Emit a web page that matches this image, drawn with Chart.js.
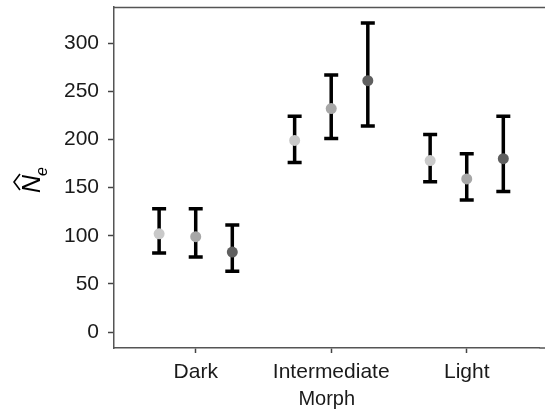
<!DOCTYPE html>
<html>
<head>
<meta charset="utf-8">
<script src="https://cdn.jsdelivr.net/npm/chart.js@4"></script>
<style>
  html, body { margin: 0; padding: 0; background: #fff; }
  #wrap { width: 545px; height: 411px; }
</style>
</head>
<body>
<div id="wrap"><canvas id="neChart"></canvas></div>
<script>
"use strict";
// categories on the x axis
const categories = ['Dark', 'Intermediate', 'Light'];
const yTicks = [0, 50, 100, 150, 200, 250, 300];

// three estimates per morph (light grey, mid grey, dark grey points)
const estA = [102, 199, 178];
const lowA = [82, 176, 156];
const highA = [128, 224, 205];

const estB = [99, 232, 159];
const lowB = [78, 201, 137];
const highB = [128, 267, 185];

const estC = [83, 261, 180];
const lowC = [63, 214, 146];
const highC = [111, 321, 224];

const groupOffsets = [-0.27, 0, 0.27];
const pointColors = ['#c9c9c9', '#a7a7a7', '#606060'];
const fontFamily = '"Liberation Sans", Arial, sans-serif';

const series = [
    { est: estA, low: lowA, high: highA },
    { est: estB, low: lowB, high: highB },
    { est: estC, low: lowC, high: highC }
];

//error bars drawn under the points, through the chart scales
const errorBars = {
    id: 'errorBars',
    beforeDatasetsDraw(chart) {
        const { ctx, scales: { x, y } } = chart;
        ctx.save();
        ctx.strokeStyle = '#000';
        ctx.lineWidth = 3.5;
        series.forEach((s, si) => {
            categories.forEach((c, ci) => {
                const px = x.getPixelForValue(ci + 1 + groupOffsets[si]);
                const top = y.getPixelForValue(s.high[ci]);
                const bot = y.getPixelForValue(s.low[ci]);
                ctx.beginPath();
                ctx.moveTo(px, top);
                ctx.lineTo(px, bot);
                ctx.moveTo(px - 7, top);
                ctx.lineTo(px + 7, top);
                ctx.moveTo(px - 7, bot);
                ctx.lineTo(px + 7, bot);
                ctx.stroke();
            });
        });
        ctx.restore();
    }
};

//top border of the panel and the N-hat sub e axis title
const frameAndTitle = {
    id: 'frameAndTitle',
    afterDraw(chart) {
        const { ctx, chartArea } = chart;
        ctx.save();
        ctx.strokeStyle = '#555';
        ctx.lineWidth = 1.5;
        ctx.beginPath();
        ctx.moveTo(chartArea.left, chartArea.top + 0.5);
        ctx.lineTo(chart.width, chartArea.top + 0.5);
        ctx.moveTo(chartArea.right, chartArea.bottom);
        ctx.lineTo(chart.width, chartArea.bottom);
        ctx.stroke();

        ctx.translate(40, 193);
        ctx.rotate(-Math.PI / 2);
        ctx.fillStyle = '#000';
        ctx.textBaseline = 'alphabetic';
        ctx.textAlign = 'left';
        ctx.font = 'italic 25px ' + fontFamily;
        ctx.fillText('N', 0, 0);
        const nW = ctx.measureText('N').width;
        ctx.font = 'italic 16px ' + fontFamily;
        ctx.fillText('e', nW - 1, 7);
        ctx.strokeStyle = '#000';
        ctx.lineWidth = 1.6;
        ctx.beginPath();
        ctx.moveTo(3, -20);
        ctx.lineTo(nW / 2 + 2, -26);
        ctx.lineTo(nW + 1, -20);
        ctx.stroke();
        ctx.restore();
    }
};

const datasets = series.map((s, si) => ({
    label: 'Estimate ' + (si + 1),
    data: s.est.map((v, ci) => ({ x: ci + 1 + groupOffsets[si], y: v })),
    backgroundColor: pointColors[si],
    borderColor: pointColors[si],
    pointRadius: 5.5,
    pointHoverRadius: 5.5,
    borderWidth: 0
}));

const ctx = document.getElementById('neChart').getContext('2d');
const neChart = new Chart(ctx, {
    type: 'scatter',
    data: { datasets: datasets },
    options: {
        responsive: true,
        maintainAspectRatio: false,
        animation: false,
        layout: { padding: { top: 7, right: 0, bottom: 0, left: 0 } },
        plugins: {
            legend: { display: false },
            tooltip: { enabled: false }
        },
        scales: {
            x: {
                type: 'linear',
                min: 0.397,
                max: 3.537,
                afterBuildTicks: (axis) => {
                    axis.ticks = categories.map((c, i) => ({ value: i + 1 }));
                },
                afterFit: (axis) => {
                    axis.height = 63;
                    axis.paddingLeft = 0;
                    axis.paddingRight = 0;
                },
                ticks: {
                    callback: (value) => categories[Math.round(value) - 1],
                    color: '#1a1a1a',
                    font: { family: fontFamily, size: 21 },
                    padding: 7,
                    maxRotation: 0,
                    autoSkip: false
                },
                grid: {
                    drawOnChartArea: false,
                    drawTicks: true,
                    tickLength: 5,
                    tickWidth: 1.5,
                    tickColor: '#444'
                },
                border: { display: true, color: '#555', width: 1.5 },
                title: {
                    display: true,
                    text: 'Morph',
                    color: '#1a1a1a',
                    font: { family: fontFamily, size: 20 },
                    padding: { top: 0, bottom: 0 }
                }
            },
            y: {
                type: 'linear',
                min: -16.6,
                max: 337.5,
                afterBuildTicks: (axis) => {
                    axis.ticks = yTicks.map(v => ({ value: v }));
                },
                afterFit: (axis) => {
                    axis.width = 114;
                    axis.paddingTop = 0;
                    axis.paddingBottom = 0;
                },
                ticks: {
                    color: '#1a1a1a',
                    font: { family: fontFamily, size: 21 },
                    padding: 9
                },
                grid: {
                    drawOnChartArea: false,
                    drawTicks: true,
                    tickLength: 6,
                    tickWidth: 1.5,
                    tickColor: '#444'
                },
                border: { display: true, color: '#555', width: 1.5 }
            }
        }
    },
    plugins: [errorBars, frameAndTitle]
});
</script>
</body>
</html>
